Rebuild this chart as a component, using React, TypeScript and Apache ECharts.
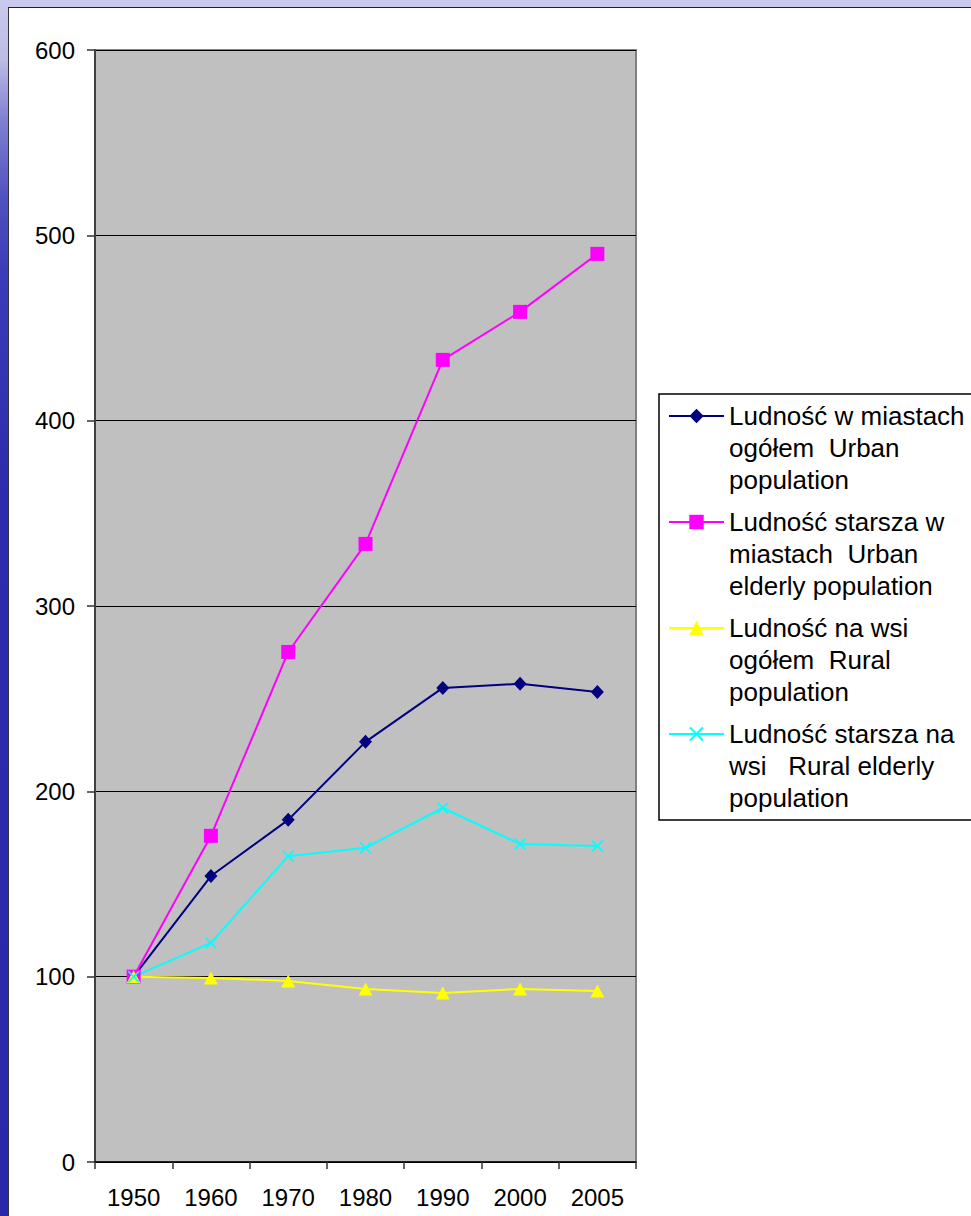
import React, { useEffect, useRef } from "react";
import * as echarts from "echarts";

const years = ["1950", "1960", "1970", "1980", "1990", "2000", "2005"];
const yTicks = [0, 100, 200, 300, 400, 500, 600];

const urbanTotal = [100, 154.3, 184.6, 226.7, 255.8, 258, 253.6];
const urbanElderly = [100, 176, 275.2, 333.5, 432.8, 458.7, 490];
const ruralTotal = [100, 99.3, 97.7, 93.4, 91.2, 93.4, 92.3];
const ruralElderly = [100, 118.2, 165, 169.5, 191, 171.6, 170.5];

const seriesNames = [
  "Ludność w miastach\nogółem  Urban\npopulation",
  "Ludność starsza w\nmiastach  Urban\nelderly population",
  "Ludność na wsi\nogółem  Rural\npopulation",
  "Ludność starsza na\nwsi   Rural elderly\npopulation",
];

const crossPath =
  "path://M0,1L1,0L5,4L9,0L10,1L6,5L10,9L9,10L5,6L1,10L0,9L4,5Z";

export default function App() {
  const ref = useRef<HTMLDivElement>(null);

  useEffect(() => {
    if (!ref.current) return;
    const chart = echarts.init(ref.current, undefined, { renderer: "svg" });
    const font = "'Liberation Sans', Arial, sans-serif";
    const mk = (name: string, data: number[], color: string, symbol: string, size: number | number[]) => ({
      name,
      type: "line",
      data,
      symbol,
      symbolSize: size,
      showSymbol: true,
      lineStyle: { color, width: 2 },
      itemStyle: { color, borderWidth: 0 },
      emphasis: { disabled: true },
    });
    chart.setOption({
      animation: false,
      backgroundColor: "transparent",
      textStyle: { fontFamily: font },
      grid: {
        left: 95,
        top: 50,
        right: 335,
        bottom: 54,
        show: true,
        backgroundColor: "#c0c0c0",
        borderColor: "#808080",
        borderWidth: 2,
      },
      graphic: [
        {
          type: "rect",
          shape: { x: 659, y: 394, width: 400, height: 426 },
          style: { fill: "#ffffff", stroke: "#000000", lineWidth: 1.5 },
          z: 0,
        },
      ],
      legend: {
        left: 668,
        top: 336,
        orient: "vertical",
        itemWidth: 55,
        itemHeight: 18,
        itemGap: -54,
        padding: 0,
        z: 5,
        formatter: (name: string) => "\n\n" + name,
        textStyle: {
          fontFamily: font,
          fontSize: 26,
          color: "#000",
          lineHeight: 32,
        },
        data: seriesNames,
        selectedMode: false,
      },
      xAxis: {
        type: "category",
        data: years,
        boundaryGap: true,
        axisLine: { lineStyle: { color: "#000", width: 1.5 } },
        axisTick: { show: true, length: 7, lineStyle: { color: "#333", width: 1.5 } },
        axisLabel: { color: "#000", fontSize: 24, margin: 23, fontFamily: font },
        splitLine: { show: false },
      },
      yAxis: {
        type: "value",
        min: yTicks[0],
        max: yTicks[yTicks.length - 1],
        interval: 100,
        axisLine: { show: true, lineStyle: { color: "#404040", width: 2 } },
        axisTick: { show: true, length: 8, lineStyle: { color: "#333", width: 1.5 } },
        axisLabel: { color: "#000", fontSize: 24, margin: 20, fontFamily: font },
        splitLine: { show: true, lineStyle: { color: "#000", width: 1 } },
      },
      series: [
        mk(seriesNames[0], urbanTotal, "#000080", "diamond", [13, 14]),
        mk(seriesNames[1], urbanElderly, "#ff00ff", "rect", 14),
        mk(seriesNames[2], ruralTotal, "#ffff00", "triangle", [14, 13]),
        mk(seriesNames[3], ruralElderly, "#00ffff", crossPath, 12),
      ],
    });
    return () => chart.dispose();
  }, []);

  return (
    <div
      style={{
        position: "absolute",
        left: 0,
        top: 0,
        width: 971,
        height: 1216,
        overflow: "hidden",
        background:
          "linear-gradient(to bottom, #cacaee 0px, #bcbce4 60px, #8080d0 120px, #5050c0 200px, #3c3cb6 270px, #2c2cac 500px, #2828a8 100%)",
      }}
    >
      <div
        style={{
          position: "absolute",
          left: 8,
          top: 7,
          right: 0,
          bottom: 0,
          background: "#ffffff",
          borderLeft: "1.5px solid #333",
          borderTop: "1.5px solid #222",
        }}
      />
      <div ref={ref} style={{ position: "absolute", left: 0, top: 0, width: 971, height: 1216 }} />
    </div>
  );
}
